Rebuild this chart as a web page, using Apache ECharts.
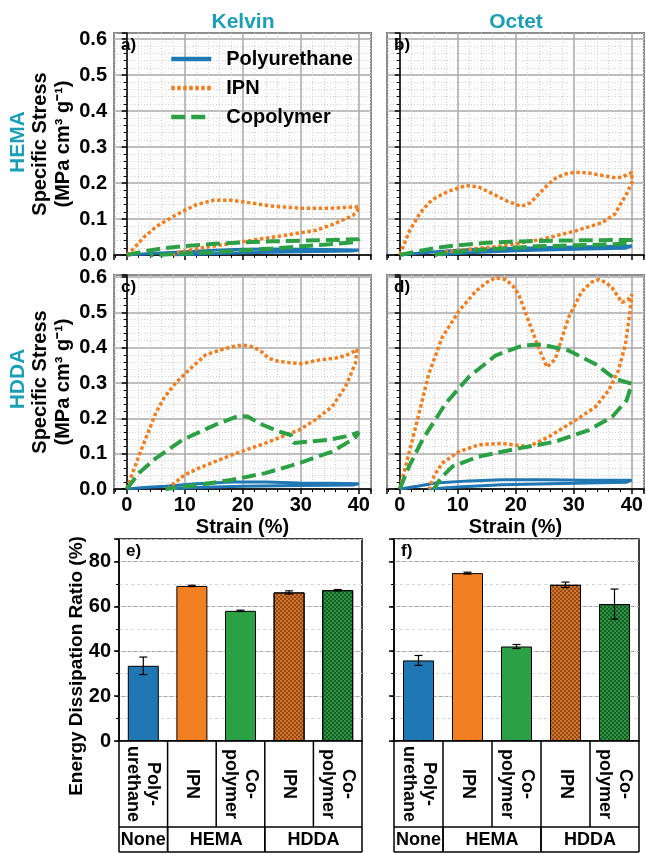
<!DOCTYPE html>
<html>
<head>
<meta charset="utf-8">
<script src="https://cdn.jsdelivr.net/npm/echarts@6.0.0/dist/echarts.min.js"></script>
<style>
  html, body { margin: 0; padding: 0; background: #fff; }
  #chart { width: 646px; height: 853px; }
</style>
</head>
<body>
<div id="chart"></div>
<script>
const FONT = '"Liberation Sans", Arial, sans-serif';
const TEAL = '#1c9fb5';
const BLUE = '#1f77b4', ORANGE = '#f27f22', GREEN = '#2ca044';

// hysteresis loops: [strain %, specific stress], loading then unloading
const kelvinHemaPU = [[0,0],[5,0.005],[10,0.009],[15,0.013],[20,0.016],[25,0.017],[30,0.016],[35,0.015],[40,0.014],[39,0.011],[30,0.009],[20,0.006],[12,0.002],[8,0]];
const kelvinHemaIPN = [[0,0],[1,0.015],[3,0.05],[5,0.078],[8,0.107],[10,0.124],[12,0.14],[15,0.152],[18,0.152],[20,0.148],[25,0.136],[30,0.13],[35,0.13],[40,0.134],[39.8,0.125],[39,0.11],[36,0.088],[32.7,0.069],[25.8,0.051],[18.3,0.033],[12.6,0.019],[8.6,0.006],[8,0]];
const kelvinHemaCo = [[0,0],[3,0.01],[6,0.018],[10,0.025],[15,0.031],[20,0.035],[25,0.038],[30,0.04],[35,0.042],[40,0.044],[39.5,0.036],[35,0.03],[30,0.024],[25,0.018],[20,0.013],[15,0.008],[10,0.004],[6,0.001],[4,0]];

const octetHemaPU = [[0,0],[4,0.006],[8,0.011],[12,0.015],[20,0.019],[30,0.022],[40,0.025],[39,0.019],[30,0.016],[20,0.012],[12,0.006],[8,0.002],[7,0]];
const octetHemaIPN = [[0,0],[1,0.04],[1.7,0.068],[3.4,0.114],[5,0.145],[6.3,0.16],[8.5,0.178],[11.4,0.193],[13.5,0.19],[16,0.17],[18.5,0.15],[20.9,0.135],[22.5,0.145],[24,0.17],[25.5,0.195],[26.9,0.214],[28.5,0.225],[30.3,0.23],[32.5,0.228],[34.9,0.221],[37,0.215],[38.3,0.216],[40,0.23],[40,0.2],[39.1,0.17],[38,0.14],[37.1,0.114],[34.9,0.09],[30.3,0.067],[24.6,0.044],[17.7,0.025],[12,0.016],[8,0.009],[6.3,0]];
const octetHemaCo = [[0,0],[3,0.01],[6.3,0.02],[10,0.027],[14.9,0.034],[19,0.037],[23.4,0.039],[31.4,0.041],[40,0.042],[39.5,0.032],[35,0.029],[30,0.027],[23.4,0.024],[15,0.016],[10,0.009],[6.5,0.002],[6,0]];

const kelvinHddaPU = [[0,0],[3,0.004],[6.7,0.008],[12,0.015],[18.2,0.02],[24,0.02],[29.7,0.017],[35,0.016],[40,0.015],[39,0.011],[30,0.01],[20,0.008],[12,0.004],[7,0]];
const kelvinHddaIPN = [[0,0],[1,0.045],[2.7,0.12],[5,0.215],[6.5,0.26],[8.4,0.3],[11.3,0.346],[13.6,0.38],[16,0.393],[18.2,0.403],[19.9,0.408],[21.6,0.403],[23,0.392],[24.5,0.37],[26,0.362],[27.9,0.358],[30.2,0.355],[33.1,0.365],[36.5,0.372],[38.5,0.383],[39.7,0.395],[40,0.39],[39.4,0.356],[38.5,0.32],[37.7,0.29],[35.4,0.233],[32.5,0.196],[29.7,0.167],[23.9,0.13],[18.2,0.097],[12.4,0.059],[10,0.04],[8.4,0.019],[7,0]];
const kelvinHddaCo = [[0,0],[2.1,0.045],[5,0.087],[9.6,0.139],[15.3,0.182],[19.3,0.207],[20.8,0.205],[23.4,0.182],[26.2,0.163],[28.3,0.153],[28.8,0.13],[31.9,0.135],[34.8,0.139],[37.7,0.149],[40,0.16],[39.5,0.148],[38.8,0.139],[35.4,0.106],[29.7,0.073],[23.9,0.045],[18.2,0.026],[12.4,0.012],[7.9,0.003],[6.7,0]];

const octetHddaPU = [[0,0],[3,0.008],[6.2,0.017],[12,0.023],[17.6,0.026],[25,0.026],[32,0.025],[40,0.025],[39,0.019],[30,0.016],[17.6,0.012],[10,0.006],[5,0]];
const octetHddaIPN = [[0,0],[1,0.064],[2.75,0.176],[5,0.326],[7.3,0.429],[10.2,0.504],[13.1,0.56],[15,0.585],[16.5,0.598],[18.3,0.593],[19.5,0.575],[20.5,0.551],[22.2,0.476],[23.9,0.401],[25.4,0.345],[26.8,0.368],[28,0.43],[29.1,0.486],[31.4,0.56],[33,0.585],[34.3,0.593],[35.5,0.585],[36.6,0.57],[38.3,0.528],[39.4,0.537],[40,0.551],[39.7,0.504],[38.9,0.41],[37.7,0.336],[36,0.279],[33.7,0.232],[30.3,0.195],[25.7,0.148],[22.2,0.12],[17.6,0.129],[15,0.127],[13.6,0.125],[10.2,0.106],[7.3,0.073],[6,0.04],[5,0]];
const octetHddaCo = [[0,0],[1.6,0.064],[3.9,0.139],[7.9,0.242],[11.9,0.317],[16.5,0.378],[21.1,0.406],[24.5,0.409],[29.1,0.392],[33.7,0.354],[37.1,0.312],[40,0.298],[39.1,0.251],[36.6,0.204],[32.6,0.167],[26.8,0.134],[20.5,0.115],[13.6,0.092],[9.1,0.064],[7,0.03],[6.2,0.008],[5.9,0]];

// energy dissipation ratio (%), mean and error
const barCategories = ['Poly-\nurethane', 'IPN', 'Co-\npolymer', 'IPN', 'Co-\npolymer'];
const barGroups = ['None', 'HEMA', 'HDDA'];
const groupSpans = [[0, 0], [1, 2], [3, 4]];
const kelvinRatio = [33.5, 69.1, 58.0, 66.2, 67.2];
const kelvinRatioErr = [3.9, 0.3, 0.3, 0.7, 0.3];
const octetRatio = [35.9, 74.8, 42.1, 69.6, 61.0];
const octetRatioErr = [2.2, 0.4, 0.9, 1.2, 6.7];

const hatch = (c) => ({
  symbol: 'rect', symbolSize: 1, color: c,
  dashArrayX: [[2, 2], [0, 2, 2, 0]], dashArrayY: [2, 0], rotation: 0
});
const barStyles = [
  { color: BLUE },
  { color: ORANGE },
  { color: GREEN },
  { color: '#d47428', decal: hatch('rgba(70,25,0,0.45)') },
  { color: '#2d9442', decal: hatch('rgba(0,40,10,0.5)') }
];

const grids = [
  { left: 114, top: 33, width: 257, height: 222 },
  { left: 387, top: 33, width: 257, height: 222 },
  { left: 114, top: 275, width: 257, height: 214 },
  { left: 387, top: 275, width: 257, height: 214 },
  { left: 119, top: 539, width: 243, height: 202 },
  { left: 394, top: 539, width: 245, height: 202 }
];

const tickFont = { fontFamily: FONT, fontWeight: 'bold', fontSize: 20, color: '#000' };
const nameFont = { fontFamily: FONT, fontWeight: 'bold', fontSize: 20, color: '#000' };

function strainAxis(i, showLabel) {
  return {
    type: 'value', gridIndex: i, min: -2.2, max: 42.1, splitNumber: 4,
    axisLine: { show: true, onZero: false, lineStyle: { color: '#000', width: 1.5 } },
    axisTick: { show: true, length: 5, lineStyle: { color: '#000', width: 1.5 } },
    minorTick: { show: true, splitNumber: 5, length: 3, lineStyle: { color: '#000' } },
    splitLine: { show: true, lineStyle: { color: '#a8a8a8', width: 1.5 } },
    minorSplitLine: { show: true, lineStyle: { color: '#d0d0d0', type: [1, 2] } },
    axisLabel: Object.assign({ show: showLabel, margin: 6,
      formatter: v => (v >= 0 && v <= 40 && Math.abs(v % 10) < 1e-6) ? String(v) : '' }, tickFont),
    name: showLabel ? 'Strain (%)' : '', nameLocation: 'middle', nameGap: 28,
    nameTextStyle: nameFont
  };
}

function stressAxis(i, showLabel, max) {
  return {
    type: 'value', gridIndex: i, min: 0, max: max, interval: 0.1,
    axisLine: { show: true, lineStyle: { color: '#000', width: 1.5 } },
    axisTick: { show: true, length: 5, lineStyle: { color: '#000', width: 1.5 } },
    minorTick: { show: true, splitNumber: 5, length: 3, lineStyle: { color: '#000' } },
    splitLine: { show: true, lineStyle: { color: '#a8a8a8', width: 1.5 } },
    minorSplitLine: { show: true, lineStyle: { color: '#d0d0d0', type: [1, 2] } },
    axisLabel: Object.assign({ show: showLabel, margin: 7,
      formatter: v => v <= 0.6001 ? v.toFixed(1) : '' }, tickFont),
    name: showLabel ? 'Specific Stress\n(MPa cm³ g⁻¹)' : '', nameLocation: 'middle', nameGap: 30,
    nameTextStyle: Object.assign({ lineHeight: 23 }, nameFont)
  };
}

function loopSeries(i, pu, ipn, co) {
  return [
    { name: 'Polyurethane', type: 'line', xAxisIndex: i, yAxisIndex: i, data: pu, symbol: 'none',
      lineStyle: { color: BLUE, width: 3 }, itemStyle: { color: BLUE, opacity: 0 } },
    { name: 'IPN', type: 'line', xAxisIndex: i, yAxisIndex: i, data: ipn, symbol: 'none',
      lineStyle: { color: ORANGE, width: 3.5, type: [3.5, 2.5] }, itemStyle: { color: ORANGE, opacity: 0 } },
    { name: 'Copolymer', type: 'line', xAxisIndex: i, yAxisIndex: i, data: co, symbol: 'none',
      lineStyle: { color: GREEN, width: 4, type: [14, 6] }, itemStyle: { color: GREEN, opacity: 0 } }
  ];
}

function barXAxis(i) {
  return {
    type: 'category', gridIndex: i, data: barCategories,
    axisLine: { show: true, lineStyle: { color: '#000', width: 1.5 } },
    axisTick: { show: false }, axisLabel: { show: false }, splitLine: { show: false }
  };
}

function ratioAxes(i, showLabel) {
  return [
    { type: 'value', gridIndex: i, position: 'left', min: 0, max: 90, interval: 20,
      axisLine: { show: true, lineStyle: { color: '#000', width: 1.5 } },
      axisTick: { show: true, length: 5, lineStyle: { color: '#000', width: 1.5 } },
      splitLine: { show: true, lineStyle: { color: '#a8a8a8', width: 1.2 } },
      axisLabel: Object.assign({ show: showLabel, margin: 8, formatter: v => v <= 80 ? String(v) : '' }, tickFont) },
    { type: 'value', gridIndex: i, position: 'left', offset: 0, min: 0, max: 90, interval: 10,
      axisLine: { show: false },
      axisTick: { show: true, length: 3, lineStyle: { color: '#000' } },
      splitLine: { show: true, lineStyle: { color: '#d6d6d6', type: [3, 3] } },
      axisLabel: { show: false } }
  ];
}

function ratioSeries(xi, yi, vals, errs) {
  return [
    { type: 'bar', xAxisIndex: xi, yAxisIndex: yi, barWidth: 31,
      data: vals.map((v, k) => ({ value: v, itemStyle: Object.assign({ borderColor: '#000', borderWidth: 1 }, barStyles[k]) })) },
    { type: 'custom', xAxisIndex: xi, yAxisIndex: yi, z: 5,
      data: vals.map((v, k) => [k, v, errs[k]]),
      encode: { x: 0, y: 1 },
      renderItem: (params, api) => {
        const k = api.value(0), v = api.value(1), e = api.value(2);
        const hi = api.coord([k, v + e]), lo = api.coord([k, v - e]);
        const w = 4, st = { stroke: '#000', lineWidth: 1.2 };
        return { type: 'group', children: [
          { type: 'line', shape: { x1: hi[0], y1: hi[1], x2: lo[0], y2: lo[1] }, style: st },
          { type: 'line', shape: { x1: hi[0] - w, y1: hi[1], x2: hi[0] + w, y2: hi[1] }, style: st },
          { type: 'line', shape: { x1: lo[0] - w, y1: lo[1], x2: lo[0] + w, y2: lo[1] }, style: st }
        ] };
      } }
  ];
}

const chart = echarts.init(document.getElementById('chart'), null, { renderer: 'canvas' });

const option = {
  animation: false,
  backgroundColor: '#fff',
  grid: grids.map(g => Object.assign({ show: true, borderColor: '#000', borderWidth: 1.5,
    backgroundColor: 'transparent', containLabel: false, outerBoundsMode: 'none' }, g)),
  legend: {
    data: ['Polyurethane', 'IPN', 'Copolymer'],
    orient: 'vertical', left: 164, top: 44, itemWidth: 40, itemHeight: 14, itemGap: 9,
    itemStyle: { opacity: 0 },
    lineStyle: { width: 4.5 },
    textStyle: { fontFamily: FONT, fontWeight: 'bold', fontSize: 20, color: '#000', padding: [0, 0, 0, 10] }
  },
  xAxis: [strainAxis(0, false), strainAxis(1, false), strainAxis(2, true), strainAxis(3, true), barXAxis(4), barXAxis(5)],
  yAxis: [stressAxis(0, true, 0.617), stressAxis(1, false, 0.617), stressAxis(2, true, 0.606), stressAxis(3, false, 0.606)]
    .concat(ratioAxes(4, true), ratioAxes(5, false)),
  series: [].concat(
    loopSeries(0, kelvinHemaPU, kelvinHemaIPN, kelvinHemaCo),
    loopSeries(1, octetHemaPU, octetHemaIPN, octetHemaCo),
    loopSeries(2, kelvinHddaPU, kelvinHddaIPN, kelvinHddaCo),
    loopSeries(3, octetHddaPU, octetHddaIPN, octetHddaCo),
    ratioSeries(4, 4, kelvinRatio, kelvinRatioErr),
    ratioSeries(5, 6, octetRatio, octetRatioErr)
  )
};
chart.setOption(option);

// titles, panel letters and the category table under the bars
const gfx = [];
const txt = (x, y, text, size, opts) => gfx.push(Object.assign({ type: 'text', x: x, y: y, silent: true,
  style: Object.assign({ text: text, font: 'bold ' + size + 'px ' + FONT, fill: '#000',
    align: 'center', verticalAlign: 'middle' }, (opts && opts.style) || {}) }, (opts && opts.el) || {}));
const ln = (x1, y1, x2, y2) => gfx.push({ type: 'line', silent: true,
  shape: { x1: x1, y1: y1, x2: x2, y2: y2 }, style: { stroke: '#000', lineWidth: 1.5 } });

txt(243, 22, 'Kelvin', 21, { style: { fill: TEAL } });
txt(516, 22, 'Octet', 21, { style: { fill: TEAL } });
txt(18, 142, 'HEMA', 21, { style: { fill: TEAL }, el: { rotation: Math.PI / 2 } });
txt(18, 379, 'HDDA', 21, { style: { fill: TEAL }, el: { rotation: Math.PI / 2 } });
txt(77, 666, 'Energy Dissipation Ratio (%)', 19, { el: { rotation: Math.PI / 2 } });

['a)', 'b)', 'c)', 'd)', 'e)', 'f)'].forEach((s, i) => {
  txt(grids[i].left + 7, grids[i].top + 4, s, 17, { style: { align: 'left', verticalAlign: 'top' } });
});

function categoryTable(xi, yi, g) {
  const y0 = chart.convertToPixel({ yAxisIndex: yi }, 0);
  const yMid = 827, yBot = 852;
  const centers = barCategories.map((c, k) => chart.convertToPixel({ xAxisIndex: xi }, k));
  const edges = [g.left];
  for (let k = 1; k < centers.length; k++) edges.push((centers[k - 1] + centers[k]) / 2);
  edges.push(g.left + g.width);
  edges.forEach(x => ln(x, y0, x, yMid));
  ln(g.left, yMid, g.left + g.width, yMid);
  ln(g.left, yBot, g.left + g.width, yBot);
  groupSpans.forEach(([a, b], k) => {
    ln(edges[a], yMid, edges[a], yBot);
    ln(edges[b + 1], yMid, edges[b + 1], yBot);
    txt((edges[a] + edges[b + 1]) / 2, (yMid + yBot) / 2 + 1, barGroups[k], 18);
  });
  centers.forEach((x, k) => {
    txt(x, (y0 + yMid) / 2, barCategories[k], 18,
      { style: { lineHeight: 20 }, el: { rotation: -Math.PI / 2 } });
  });
}
categoryTable(4, 4, grids[4]);
categoryTable(5, 6, grids[5]);

chart.setOption({ graphic: gfx });
</script>
</body>
</html>
